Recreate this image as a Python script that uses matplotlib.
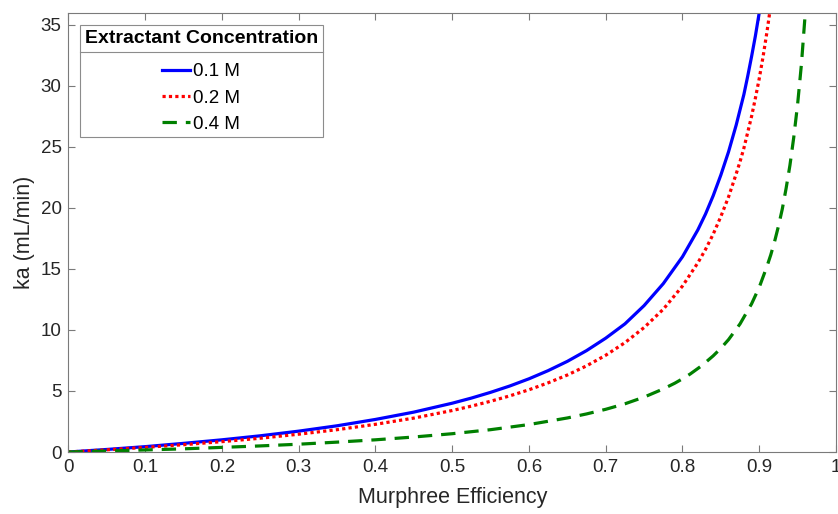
import matplotlib
matplotlib.use("Agg")
import matplotlib.pyplot as plt
from matplotlib.lines import Line2D

plt.rcParams['font.family'] = ['Liberation Sans', 'DejaVu Sans']

# Murphree efficiency vs ka
eff_01 = [0, 0.05, 0.1, 0.15, 0.2, 0.25, 0.3, 0.35, 0.4, 0.45, 0.5, 0.525, 0.55,
          0.575, 0.6, 0.625, 0.65, 0.675, 0.7, 0.725, 0.75, 0.775, 0.8, 0.82, 0.83,
          0.84, 0.85, 0.86, 0.87, 0.88, 0.885, 0.89, 0.895, 0.9, 0.91]
ka_01 = [0, 0.21, 0.44, 0.71, 1.0, 1.33, 1.71, 2.15, 2.67, 3.27, 4.0, 4.42, 4.89,
         5.41, 6.0, 6.67, 7.43, 8.31, 9.33, 10.5, 12.0, 13.8, 16.0, 18.2, 19.5,
         21.0, 22.7, 24.6, 26.8, 29.3, 30.8, 32.4, 34.1, 36.0, 40.4]

eff_02 = [0, 0.05, 0.1, 0.15, 0.2, 0.25, 0.3, 0.35, 0.4, 0.45, 0.5, 0.525, 0.55,
          0.575, 0.6, 0.625, 0.65, 0.675, 0.7, 0.725, 0.75, 0.775, 0.8, 0.82, 0.83,
          0.84, 0.85, 0.86, 0.87, 0.875, 0.88, 0.885, 0.89, 0.895, 0.9, 0.905,
          0.91, 0.915, 0.92]
ka_02 = [0, 0.18, 0.38, 0.60, 0.85, 1.13, 1.46, 1.83, 2.27, 2.78, 3.4, 3.76, 4.16,
         4.6, 5.1, 5.67, 6.31, 7.06, 7.93, 8.96, 10.2, 11.7, 13.6, 15.5, 16.6,
         17.85, 19.3, 20.9, 22.8, 23.8, 24.9, 26.2, 27.5, 29.0, 30.6, 32.4,
         34.4, 36.6, 39.1]

eff_04 = [0, 0.05, 0.1, 0.15, 0.2, 0.25, 0.3, 0.35, 0.4, 0.45, 0.5, 0.55, 0.6,
          0.65, 0.675, 0.7, 0.725, 0.75, 0.775, 0.79, 0.8, 0.81, 0.825, 0.84, 0.85,
          0.86, 0.875, 0.89, 0.9, 0.91, 0.915, 0.92, 0.925, 0.93, 0.935, 0.94,
          0.945, 0.95, 0.955, 0.96, 0.965]
ka_04 = [0, 0.08, 0.17, 0.26, 0.38, 0.5, 0.64, 0.81, 1.0, 1.23, 1.5, 1.83, 2.25,
         2.79, 3.12, 3.5, 3.95, 4.5, 5.17, 5.64, 6.0, 6.39, 7.07, 7.88, 8.5,
         9.21, 10.5, 12.14, 13.5, 15.2, 16.15, 17.25, 18.5, 19.9, 21.6, 23.5,
         25.8, 28.5, 31.8, 36.0, 41.4]

labels = ['0.1 M', '0.2 M', '0.4 M']
x_ticks = [0, 0.1, 0.2, 0.3, 0.4, 0.5, 0.6, 0.7, 0.8, 0.9, 1]
x_tick_labels = ['0', '0.1', '0.2', '0.3', '0.4', '0.5', '0.6', '0.7', '0.8', '0.9', '1']
y_ticks = [0, 5, 10, 15, 20, 25, 30, 35]

fig = plt.figure(figsize=(8.38, 5.14), dpi=100)
ax = fig.add_axes([0.0817, 0.1206, 0.9159, 0.8547])

ax.plot(eff_01, ka_01, color='#0000ff', lw=2.3, label=labels[0])
ax.plot(eff_02, ka_02, color='#ff0000', lw=2.3, linestyle=(0, (1, 1)), label=labels[1])
ax.plot(eff_04, ka_04, color='#008000', lw=2.3, linestyle=(0, (4.5, 2.8)), label=labels[2])

ax.set_xlim(0, 1)
ax.set_ylim(0, 36)
ax.set_xticks(x_ticks)
ax.set_xticklabels(x_tick_labels)
ax.set_yticks(y_ticks)

for s in ax.spines.values():
    s.set_color('#7a7a7a')
    s.set_linewidth(0.8)
ax.tick_params(direction='in', length=5, width=0.8, color='#7a7a7a',
               labelcolor='#262626', labelsize=13.5, top=True, right=True, pad=5)

ax.set_xlabel('Murphree Efficiency', fontsize=15.5, color='#262626', labelpad=8)
ax.set_ylabel('ka (mL/min)', fontsize=15.5, color='#262626', labelpad=4)

leg = ax.legend(loc='upper left', bbox_to_anchor=(0.015, 0.972), borderaxespad=0,
                fontsize=13.5, title='Extractant Concentration',
                title_fontproperties={'weight': 'bold', 'size': 14},
                fancybox=False, framealpha=1, edgecolor='#8c8c8c',
                handlelength=1.45, handletextpad=0.2, labelspacing=0.48,
                borderpad=0.25)
leg.get_frame().set_linewidth(0.8)
# wider gap between the title and the entries
leg._legend_box.sep = 12

# separator under the legend title, as in the original
fig.canvas.draw()
r = fig.canvas.get_renderer()
fb = leg.get_frame().get_window_extent(r)
tb = leg.get_title().get_window_extent(r)
ysep = tb.y0 - 5
W, H = fig.bbox.width, fig.bbox.height
fig.add_artist(Line2D([fb.x0 / W, fb.x1 / W], [ysep / H, ysep / H],
                      color='#8c8c8c', lw=0.8, transform=fig.transFigure))

fig.savefig('out.png', dpi=100)
